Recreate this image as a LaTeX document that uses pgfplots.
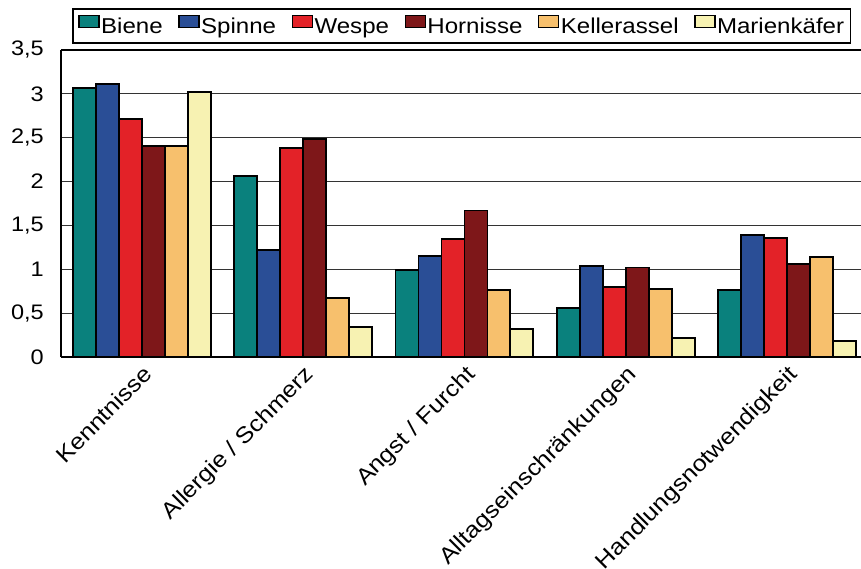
\documentclass[border=0pt]{standalone}
\usepackage{fontspec}
\setmainfont{Liberation Sans}[FakeStretch=1.12]
\usepackage{pgfplots}
\pgfplotsset{compat=1.18}
\definecolor{cBiene}{HTML}{0A817D}
\definecolor{cSpinne}{HTML}{2A4E96}
\definecolor{cWespe}{HTML}{E32228}
\definecolor{cHornisse}{HTML}{7E1719}
\definecolor{cKeller}{HTML}{F7C06D}
\definecolor{cMarien}{HTML}{F7F2B2}
\begin{document}
\begin{tikzpicture}
\begin{axis}[
  scale only axis, width=800pt, height=307pt,
  xmin=-0.502, xmax=4.459, ymin=0, ymax=3.5,
  ybar=0pt, bar width=0.1425,
  axis lines*=left,
  axis line style={line width=1.9pt, black},
  xtick={0,1,2,3,4},
  xticklabels={Kenntnisse, Allergie / Schmerz, Angst / Furcht, Alltagseinschränkungen, Handlungsnotwendigkeit},
  x tick label style={rotate=45, anchor=north east, inner sep=0pt, font=\fontsize{22.5}{26}\selectfont, xshift=-5pt, yshift=-5pt},
  ytick={0,0.5,1,1.5,2,2.5,3,3.5},
  y tick label style={font=\fontsize{21}{24}\selectfont, anchor=east, inner sep=0pt, xshift=-17pt},
  /pgf/number format/.cd, use comma, fixed, assume math mode=true, /pgfplots/.cd,
  major tick length=0pt,
  ymajorgrids, grid style={line width=0.9pt, gray!40!black},
  legend image code/.code={\draw[#1, draw=black, line width=1.4pt] (0pt,-1pt) rectangle (20pt,11pt);},
  legend style={at={(axis description cs:0.5012,1.02)}, anchor=south, legend columns=6,
    draw=black, line width=1.6pt, font=\fontsize{21.5}{25}\selectfont,
    inner xsep=5pt, inner ysep=6pt,
    nodes={inner xsep=1.5pt},
    /tikz/every even column/.append style={column sep=14pt}},
]
\addplot[fill=cBiene, draw=black, line width=1.9pt] coordinates {(0,3.07) (1,2.06) (2,0.99) (3,0.56) (4,0.76)};
\addplot[fill=cSpinne, draw=black, line width=1.9pt] coordinates {(0,3.11) (1,1.22) (2,1.15) (3,1.04) (4,1.39)};
\addplot[fill=cWespe, draw=black, line width=1.9pt] coordinates {(0,2.71) (1,2.38) (2,1.35) (3,0.80) (4,1.36)};
\addplot[fill=cHornisse, draw=black, line width=1.9pt] coordinates {(0,2.41) (1,2.49) (2,1.67) (3,1.02) (4,1.06)};
\addplot[fill=cKeller, draw=black, line width=1.9pt] coordinates {(0,2.41) (1,0.67) (2,0.765) (3,0.78) (4,1.14)};
\addplot[fill=cMarien, draw=black, line width=1.9pt] coordinates {(0,3.02) (1,0.34) (2,0.32) (3,0.22) (4,0.18)};
\legend{Biene, Spinne, Wespe, Hornisse, Kellerassel, Marienkäfer}
\draw[black, line width=1.9pt] (rel axis cs:0,1) -- (rel axis cs:1,1);
\end{axis}
\pgfresetboundingbox
\path[use as bounding box] (-61pt,-212pt) rectangle (800pt,357pt);
\end{tikzpicture}
\end{document}
